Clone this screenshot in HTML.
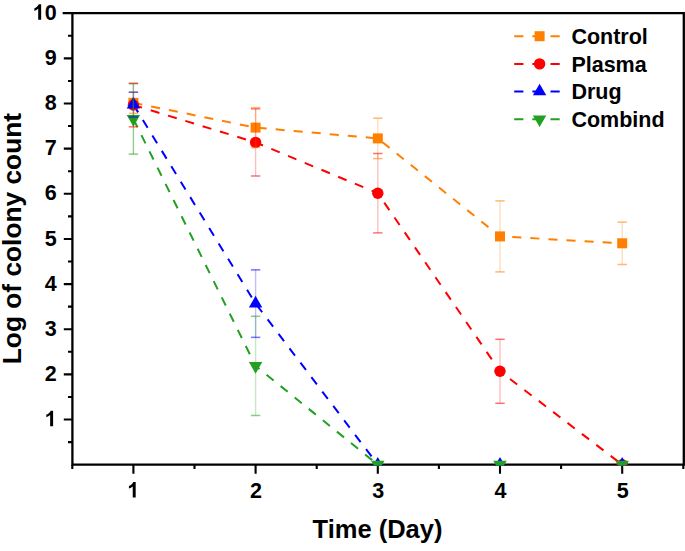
<!DOCTYPE html>
<html><head><meta charset="utf-8"><style>
html,body{margin:0;padding:0;background:#fff;width:685px;height:551px;overflow:hidden}
svg{display:block}
text{font-family:"Liberation Sans",sans-serif;font-weight:bold;fill:#000}
.tl{font-size:21.5px}
.lg{font-size:21.5px}
.at{font-size:25.5px}
.at2{font-size:26.3px}
</style></head><body>
<svg width="685" height="551" viewBox="0 0 685 551">
<defs>
<clipPath id="pc"><rect x="72.4" y="13.199999999999989" width="611.4" height="451.5"/></clipPath>
<clipPath id="mc"><rect x="72.4" y="0" width="611.4" height="465.7"/></clipPath>
</defs>
<g clip-path="url(#pc)"><polyline points="133.40,102.80 255.60,127.60 377.80,138.40 500.00,236.40 622.20,243.30" fill="none" stroke="#FF8000" stroke-width="2.0" stroke-dasharray="9.1 9.0"/><polyline points="133.40,105.00 255.60,142.40 377.80,193.20 500.00,371.30 622.20,464.70" fill="none" stroke="#FF0000" stroke-width="2.0" stroke-dasharray="9.1 9.0"/><polyline points="133.40,104.60 255.60,303.60 377.80,464.70" fill="none" stroke="#0000FF" stroke-width="2.0" stroke-dasharray="9.1 9.0"/><polyline points="133.40,118.95 255.60,365.90 377.80,464.70" fill="none" stroke="#22A022" stroke-width="2.0" stroke-dasharray="9.1 9.0"/></g>
<path d="M72.4,464.7 L72.4,13.199999999999989 M63.800000000000004,13.199999999999989 L683.8,13.199999999999989 L683.8,464.7 M72.4,464.7 L684.9,464.7" fill="none" stroke="#000" stroke-width="2.3" stroke-linecap="square"/><path d="M63.800000000000004,419.55 L72.4,419.55 M63.800000000000004,374.40 L72.4,374.40 M63.800000000000004,329.25 L72.4,329.25 M63.800000000000004,284.10 L72.4,284.10 M63.800000000000004,238.95 L72.4,238.95 M63.800000000000004,193.80 L72.4,193.80 M63.800000000000004,148.65 L72.4,148.65 M63.800000000000004,103.50 L72.4,103.50 M63.800000000000004,58.35 L72.4,58.35 M68.0,442.12 L72.4,442.12 M68.0,396.98 L72.4,396.98 M68.0,351.82 L72.4,351.82 M68.0,306.67 L72.4,306.67 M68.0,261.52 L72.4,261.52 M68.0,216.38 L72.4,216.38 M68.0,171.23 L72.4,171.23 M68.0,126.07 L72.4,126.07 M68.0,80.93 L72.4,80.93 M68.0,35.77 L72.4,35.77 M133.40,464.7 L133.40,473.7 M255.60,464.7 L255.60,473.7 M377.80,464.7 L377.80,473.7 M500.00,464.7 L500.00,473.7 M622.20,464.7 L622.20,473.7 M72.30,464.7 L72.30,468.9 M194.50,464.7 L194.50,468.9 M316.70,464.7 L316.70,468.9 M438.90,464.7 L438.90,468.9 M561.10,464.7 L561.10,468.9 M683.30,464.7 L683.30,468.9" stroke="#000" stroke-width="2.1" fill="none"/>
<g clip-path="url(#mc)"><rect x="128.40" y="97.80" width="10" height="10" fill="#FF8000"/><rect x="250.60" y="122.60" width="10" height="10" fill="#FF8000"/><rect x="372.80" y="133.40" width="10" height="10" fill="#FF8000"/><rect x="495.00" y="231.40" width="10" height="10" fill="#FF8000"/><rect x="617.20" y="238.30" width="10" height="10" fill="#FF8000"/><circle cx="133.40" cy="105.00" r="5.7" fill="#FF0000"/><circle cx="255.60" cy="142.40" r="5.7" fill="#FF0000"/><circle cx="377.80" cy="193.20" r="5.7" fill="#FF0000"/><circle cx="500.00" cy="371.30" r="5.7" fill="#FF0000"/><circle cx="622.20" cy="464.70" r="5.7" fill="#FF0000"/><polygon points="133.40,96.87 140.10,108.47 126.70,108.47" fill="#0000FF"/><polygon points="255.60,295.87 262.30,307.47 248.90,307.47" fill="#0000FF"/><polygon points="377.80,456.97 384.50,468.57 371.10,468.57" fill="#0000FF"/><polygon points="500.00,456.97 506.70,468.57 493.30,468.57" fill="#0000FF"/><polygon points="622.20,456.97 628.90,468.57 615.50,468.57" fill="#0000FF"/><polygon points="126.70,115.08 140.10,115.08 133.40,126.68" fill="#22A022"/><polygon points="248.90,362.03 262.30,362.03 255.60,373.63" fill="#22A022"/><polygon points="371.10,460.83 384.50,460.83 377.80,472.43" fill="#22A022"/><polygon points="493.30,460.83 506.70,460.83 500.00,472.43" fill="#22A022"/><polygon points="615.50,460.83 628.90,460.83 622.20,472.43" fill="#22A022"/></g>
<g><line x1="133.40" y1="92.20" x2="133.40" y2="113.40" stroke="#FF8000" stroke-opacity="0.15" stroke-width="1.4"/><line x1="255.60" y1="107.60" x2="255.60" y2="147.60" stroke="#FF8000" stroke-opacity="0.26" stroke-width="1.4"/><line x1="377.80" y1="118.20" x2="377.80" y2="158.60" stroke="#FF8000" stroke-opacity="0.26" stroke-width="1.4"/><line x1="500.00" y1="200.90" x2="500.00" y2="271.90" stroke="#FF8000" stroke-opacity="0.26" stroke-width="1.4"/><line x1="622.20" y1="222.10" x2="622.20" y2="264.50" stroke="#FF8000" stroke-opacity="0.26" stroke-width="1.4"/><line x1="133.40" y1="83.20" x2="133.40" y2="126.80" stroke="#FF0000" stroke-opacity="0.15" stroke-width="1.4"/><line x1="255.60" y1="108.80" x2="255.60" y2="176.00" stroke="#FF0000" stroke-opacity="0.26" stroke-width="1.4"/><line x1="377.80" y1="153.50" x2="377.80" y2="232.90" stroke="#FF0000" stroke-opacity="0.26" stroke-width="1.4"/><line x1="500.00" y1="339.30" x2="500.00" y2="403.30" stroke="#FF0000" stroke-opacity="0.26" stroke-width="1.4"/><line x1="133.40" y1="92.20" x2="133.40" y2="117.00" stroke="#0000FF" stroke-opacity="0.26" stroke-width="1.4"/><line x1="255.60" y1="269.85" x2="255.60" y2="337.35" stroke="#0000FF" stroke-opacity="0.26" stroke-width="1.4"/><line x1="133.40" y1="83.75" x2="133.40" y2="154.15" stroke="#22A022" stroke-opacity="0.5" stroke-width="1.4"/><line x1="255.60" y1="316.30" x2="255.60" y2="415.50" stroke="#22A022" stroke-opacity="0.26" stroke-width="1.4"/><line x1="128.70" y1="83.75" x2="138.10" y2="83.75" stroke="#22A022" stroke-opacity="0.55" stroke-width="1.5"/><line x1="128.70" y1="154.15" x2="138.10" y2="154.15" stroke="#22A022" stroke-opacity="0.55" stroke-width="1.5"/><line x1="250.90" y1="316.30" x2="260.30" y2="316.30" stroke="#22A022" stroke-opacity="0.55" stroke-width="1.5"/><line x1="250.90" y1="415.50" x2="260.30" y2="415.50" stroke="#22A022" stroke-opacity="0.55" stroke-width="1.5"/><line x1="128.70" y1="83.20" x2="138.10" y2="83.20" stroke="#FF0000" stroke-opacity="0.55" stroke-width="1.5"/><line x1="128.70" y1="126.80" x2="138.10" y2="126.80" stroke="#FF0000" stroke-opacity="0.55" stroke-width="1.5"/><line x1="250.90" y1="108.80" x2="260.30" y2="108.80" stroke="#FF0000" stroke-opacity="0.55" stroke-width="1.5"/><line x1="250.90" y1="176.00" x2="260.30" y2="176.00" stroke="#FF0000" stroke-opacity="0.55" stroke-width="1.5"/><line x1="373.10" y1="153.50" x2="382.50" y2="153.50" stroke="#FF0000" stroke-opacity="0.55" stroke-width="1.5"/><line x1="373.10" y1="232.90" x2="382.50" y2="232.90" stroke="#FF0000" stroke-opacity="0.55" stroke-width="1.5"/><line x1="495.30" y1="339.30" x2="504.70" y2="339.30" stroke="#FF0000" stroke-opacity="0.55" stroke-width="1.5"/><line x1="495.30" y1="403.30" x2="504.70" y2="403.30" stroke="#FF0000" stroke-opacity="0.55" stroke-width="1.5"/><line x1="128.70" y1="92.20" x2="138.10" y2="92.20" stroke="#FF8000" stroke-opacity="0.55" stroke-width="1.5"/><line x1="128.70" y1="113.40" x2="138.10" y2="113.40" stroke="#FF8000" stroke-opacity="0.55" stroke-width="1.5"/><line x1="250.90" y1="107.60" x2="260.30" y2="107.60" stroke="#FF8000" stroke-opacity="0.55" stroke-width="1.5"/><line x1="250.90" y1="147.60" x2="260.30" y2="147.60" stroke="#FF8000" stroke-opacity="0.55" stroke-width="1.5"/><line x1="373.10" y1="118.20" x2="382.50" y2="118.20" stroke="#FF8000" stroke-opacity="0.55" stroke-width="1.5"/><line x1="373.10" y1="158.60" x2="382.50" y2="158.60" stroke="#FF8000" stroke-opacity="0.55" stroke-width="1.5"/><line x1="495.30" y1="200.90" x2="504.70" y2="200.90" stroke="#FF8000" stroke-opacity="0.55" stroke-width="1.5"/><line x1="495.30" y1="271.90" x2="504.70" y2="271.90" stroke="#FF8000" stroke-opacity="0.55" stroke-width="1.5"/><line x1="617.50" y1="222.10" x2="626.90" y2="222.10" stroke="#FF8000" stroke-opacity="0.55" stroke-width="1.5"/><line x1="617.50" y1="264.50" x2="626.90" y2="264.50" stroke="#FF8000" stroke-opacity="0.55" stroke-width="1.5"/><line x1="128.70" y1="92.20" x2="138.10" y2="92.20" stroke="#0000FF" stroke-opacity="0.55" stroke-width="1.5"/><line x1="128.70" y1="117.00" x2="138.10" y2="117.00" stroke="#0000FF" stroke-opacity="0.55" stroke-width="1.5"/><line x1="250.90" y1="269.85" x2="260.30" y2="269.85" stroke="#0000FF" stroke-opacity="0.55" stroke-width="1.5"/><line x1="250.90" y1="337.35" x2="260.30" y2="337.35" stroke="#0000FF" stroke-opacity="0.55" stroke-width="1.5"/></g>
<path transform="translate(44.64,426.15) scale(0.010498,-0.010498)" d="M806 0H525V1059Q371 915 162 846V1101Q272 1137 401 1237Q530 1337 578 1470H806Z"/><text x="44.64" y="381.00" class="tl">2</text><text x="44.64" y="335.85" class="tl">3</text><text x="44.64" y="290.70" class="tl">4</text><text x="44.64" y="245.55" class="tl">5</text><text x="44.64" y="200.40" class="tl">6</text><text x="44.64" y="155.25" class="tl">7</text><text x="44.64" y="110.10" class="tl">8</text><text x="44.64" y="64.95" class="tl">9</text><path transform="translate(32.69,19.80) scale(0.010498,-0.010498)" d="M806 0H525V1059Q371 915 162 846V1101Q272 1137 401 1237Q530 1337 578 1470H806Z"/><text x="44.64" y="19.80" class="tl">0</text><path transform="translate(127.22,497.50) scale(0.010498,-0.010498)" d="M806 0H525V1059Q371 915 162 846V1101Q272 1137 401 1237Q530 1337 578 1470H806Z"/><text x="250.12" y="497.50" class="tl">2</text><text x="372.32" y="497.50" class="tl">3</text><text x="494.52" y="497.50" class="tl">4</text><text x="616.72" y="497.50" class="tl">5</text><text x="377.5" y="538" text-anchor="middle" class="at">Time (Day)</text><text transform="translate(21.3,238.6) rotate(-90)" text-anchor="middle" class="at2">Log of colony count</text>
<line x1="514.2" y1="36.2" x2="559.8" y2="36.2" stroke="#FF8000" stroke-width="2.0" stroke-dasharray="9.2 8.95"/><rect x="534.60" y="31.20" width="10" height="10" fill="#FF8000"/><text x="571.4" y="44.10" class="lg">Control</text><line x1="514.2" y1="63.9" x2="559.8" y2="63.9" stroke="#FF0000" stroke-width="2.0" stroke-dasharray="9.2 8.95"/><circle cx="539.60" cy="63.90" r="5.7" fill="#FF0000"/><text x="571.4" y="71.80" class="lg">Plasma</text><line x1="514.2" y1="91.5" x2="559.8" y2="91.5" stroke="#0000FF" stroke-width="2.0" stroke-dasharray="9.2 8.95"/><polygon points="539.60,83.77 546.30,95.37 532.90,95.37" fill="#0000FF"/><text x="571.4" y="99.40" class="lg">Drug</text><line x1="514.2" y1="119.3" x2="559.8" y2="119.3" stroke="#22A022" stroke-width="2.0" stroke-dasharray="9.2 8.95"/><polygon points="532.90,115.43 546.30,115.43 539.60,127.03" fill="#22A022"/><text x="571.4" y="127.20" class="lg">Combind</text>
</svg>
</body></html>
